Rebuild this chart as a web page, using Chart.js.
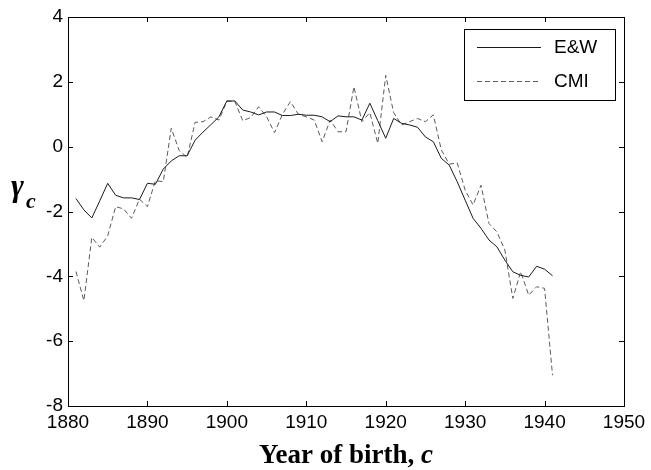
<!DOCTYPE html>
<html lang="en">
<head>
<meta charset="UTF-8" />
<title>Cohort effects by year of birth</title>
<style>
  html, body { margin: 0; padding: 0; background: #fff; }
</style>
</head>
<body>
<canvas id="chart" width="651" height="470"></canvas>
<script src="https://cdn.jsdelivr.net/npm/chart.js"></script>
<script>
// year of birth (c)
const years = [
  1881, 1882, 1883, 1884, 1885, 1886, 1887, 1888, 1889, 1890,
  1891, 1892, 1893, 1894, 1895, 1896, 1897, 1898, 1899, 1900,
  1901, 1902, 1903, 1904, 1905, 1906, 1907, 1908, 1909, 1910,
  1911, 1912, 1913, 1914, 1915, 1916, 1917, 1918, 1919, 1920,
  1921, 1922, 1923, 1924, 1925, 1926, 1927, 1928, 1929, 1930,
  1931, 1932, 1933, 1934, 1935, 1936, 1937, 1938, 1939, 1940,
  1941
];

const ewValues = [
  -1.6, -1.95, -2.2, -1.67, -1.13, -1.5, -1.58, -1.58, -1.63, -1.13,
  -1.16, -0.69, -0.44, -0.28, -0.28, 0.2, 0.45, 0.68, 0.92, 1.41,
  1.41, 1.13, 1.07, 0.98, 1.07, 1.07, 0.96, 0.96, 1.0, 0.97,
  0.97, 0.92, 0.77, 0.95, 0.92, 0.92, 0.82, 1.34, 0.8, 0.26,
  0.87, 0.72, 0.67, 0.6, 0.3, 0.15, -0.36, -0.57, -1.08, -1.65,
  -2.21, -2.52, -2.88, -3.09, -3.5, -3.86, -3.97, -4.02, -3.69, -3.78,
  -3.98
];

const cmiValues = [
  -3.85, -4.75, -2.8, -3.1, -2.75, -1.85, -1.92, -2.21, -1.62, -1.85,
  -1.05, -1.08, 0.57, -0.12, -0.33, 0.75, 0.77, 0.92, 0.82, 1.4,
  1.4, 0.8, 0.9, 1.23, 0.93, 0.43, 1.0, 1.39, 1.0, 0.92,
  0.82, 0.15, 0.82, 0.46, 0.46, 1.85, 0.77, 1.05, 0.1, 2.2,
  1.05, 0.67, 0.77, 0.87, 0.77, 0.98, -0.1, -0.54, -0.5, -1.34,
  -1.8, -1.19, -2.37, -2.63, -3.19, -4.68, -3.86, -4.58, -4.32, -4.37,
  -7.05
];

const xTicks = [1880, 1890, 1900, 1910, 1920, 1930, 1940, 1950];
const yTicks = [-8, -6, -4, -2, 0, 2, 4];

const tickFont = { family: "Liberation Sans, Arial", size: 19 };

function pts(vals) {
  return years.map((y, i) => ({ x: y, y: vals[i] }));
}

// frame, inward ticks, boxed legend and the two axis titles
const decorations = {
  id: "decorations",
  afterDraw(chart) {
    const ctx = chart.ctx;
    const a = chart.chartArea;
    const xs = chart.scales.x;
    const ys = chart.scales.y;
    ctx.save();
    ctx.strokeStyle = "#000";
    ctx.lineWidth = 1;
    ctx.strokeRect(Math.round(a.left) + 0.5, Math.round(a.top) + 0.5,
      Math.round(a.right - a.left), Math.round(a.bottom - a.top));

    ctx.beginPath();
    xTicks.forEach(v => {
      const px = Math.round(xs.getPixelForValue(v)) + 0.5;
      ctx.moveTo(px, a.bottom); ctx.lineTo(px, a.bottom - 5);
      ctx.moveTo(px, a.top); ctx.lineTo(px, a.top + 5);
    });
    yTicks.forEach(v => {
      const py = Math.round(ys.getPixelForValue(v)) + 0.5;
      ctx.moveTo(a.left, py); ctx.lineTo(a.left + 5, py);
      ctx.moveTo(a.right, py); ctx.lineTo(a.right - 5, py);
    });
    ctx.stroke();

    // legend
    ctx.fillStyle = "#fff";
    ctx.fillRect(464, 29, 151, 71);
    ctx.strokeRect(464.5, 29.5, 151, 71);
    ctx.font = '19px "Liberation Sans", Arial';
    ctx.textBaseline = "middle";
    const rows = [47, 81];
    chart.data.datasets.forEach((ds, i) => {
      ctx.beginPath();
      ctx.strokeStyle = ds.borderColor;
      ctx.setLineDash(ds.borderDash || []);
      ctx.moveTo(477, rows[i] + 0.5);
      ctx.lineTo(541, rows[i] + 0.5);
      ctx.stroke();
      ctx.setLineDash([]);
      ctx.fillStyle = "#000";
      ctx.fillText(ds.label, 554, rows[i] + 1);
    });

    // x title
    ctx.textBaseline = "alphabetic";
    ctx.fillStyle = "#000";
    const t1 = "Year of birth, ";
    ctx.font = 'bold 27px "Liberation Serif", "Times New Roman"';
    const w1 = ctx.measureText(t1).width;
    ctx.font = 'italic bold 27px "Liberation Serif", "Times New Roman"';
    const w2 = ctx.measureText("c").width;
    let x0 = (a.left + a.right) / 2 - (w1 + w2) / 2;
    ctx.font = 'bold 27px "Liberation Serif", "Times New Roman"';
    ctx.fillText(t1, x0, 463);
    ctx.font = 'italic bold 27px "Liberation Serif", "Times New Roman"';
    ctx.fillText("c", x0 + w1, 463);

    // y title
    ctx.font = 'italic bold 31px "Liberation Serif", "Times New Roman"';
    ctx.fillText("\u03b3", 11, 196);
    ctx.font = 'italic bold 22px "Liberation Serif", "Times New Roman"';
    ctx.fillText("c", 26, 208);
    ctx.restore();
  }
};

new Chart(document.getElementById("chart"), {
  type: "line",
  data: {
    datasets: [
      {
        label: "E&W",
        data: pts(ewValues),
        borderColor: "#1a1a1a",
        borderWidth: 1,
        pointRadius: 0,
        tension: 0
      },
      {
        label: "CMI",
        data: pts(cmiValues),
        borderColor: "#5a5a5a",
        borderWidth: 1,
        borderDash: [5, 3],
        pointRadius: 0,
        tension: 0
      }
    ]
  },
  options: {
    responsive: false,
    animation: false,
    layout: { padding: { left: 0, top: 17, right: 27, bottom: 0 } },
    plugins: { legend: { display: false }, tooltip: { enabled: false } },
    scales: {
      x: {
        type: "linear",
        min: 1880,
        max: 1950,
        afterBuildTicks: s => { s.ticks = xTicks.map(v => ({ value: v })); },
        afterFit: s => { s.height = 64; },
        grid: { display: false, drawTicks: false },
        border: { display: false },
        ticks: {
          font: tickFont,
          color: "#000",
          padding: 5,
          maxRotation: 0,
          callback: v => String(v)
        }
      },
      y: {
        min: -8,
        max: 4,
        afterBuildTicks: s => { s.ticks = yTicks.map(v => ({ value: v })); },
        afterFit: s => { s.width = 68; },
        grid: { display: false, drawTicks: false },
        border: { display: false },
        ticks: {
          font: tickFont,
          color: "#000",
          padding: 5,
          callback: v => String(v)
        }
      }
    }
  },
  plugins: [decorations]
});
</script>
</body>
</html>
